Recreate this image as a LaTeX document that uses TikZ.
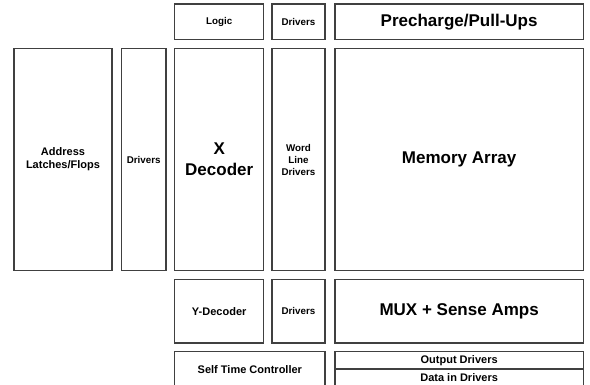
\documentclass[tikz,border=0pt]{standalone}
\usepackage{fontspec}
\setmainfont{Liberation Sans}
\usepackage{tikz}
\usetikzlibrary{positioning}
\tikzset{
	block/.style = {draw=black!75, line width=1.3pt, fill=white, rectangle, inner sep=0pt, outer sep=0pt, align=center},
	small/.style = {font=\bfseries\fontsize{9.8}{12}\selectfont},
	medium/.style = {font=\bfseries\fontsize{11}{13.3}\selectfont},
	large/.style = {font=\bfseries\fontsize{17}{21}\selectfont},
	tall/.style = {minimum height=222.4pt},
	top/.style = {minimum height=35.7pt},
	mid/.style = {minimum height=63.7pt},
	thin/.style = {minimum height=17.3pt}
}

\begin{document}
\begin{tikzpicture}[x=1pt,y=1pt]
	\useasboundingbox (0,0) rectangle (590,-385);
	\clip (0,0) rectangle (590,-385);
	\node [block, large, tall, minimum width=89pt, anchor=north west] (XDec) at (174.7,-48.3) {X\\Decoder};
	\node [block, small, tall, minimum width=44.7pt, left=8.7pt of XDec] (AddrDrv) {Drivers};
	\node [block, medium, tall, minimum width=98pt, left=9.3pt of AddrDrv] (Addr) {Address\\Latches/Flops};
	\node [block, small, tall, minimum width=53pt, right=8.3pt of XDec] (WLDrv) {Word\\Line\\Drivers};
	\node [block, large, tall, minimum width=248.3pt, right=10pt of WLDrv] (Mem) {Memory Array};

	\node [block, small, top, minimum width=89pt, above=8.6pt of XDec] (Logic) {Logic};
	\node [block, small, top, minimum width=53pt, above=8.6pt of WLDrv] (TopDrv) {Drivers};
	\node [block, large, top, minimum width=248.3pt, above=8.6pt of Mem] (Pre) {Precharge/Pull-Ups};

	\node [block, medium, mid, minimum width=89pt, below=8.6pt of XDec] (YDec) {Y-Decoder};
	\node [block, small, mid, minimum width=53pt, below=8.6pt of WLDrv] (BotDrv) {Drivers};
	\node [block, large, mid, minimum width=248.3pt, below=8.6pt of Mem] (Mux) {MUX + Sense Amps};

	\node [block, medium, minimum width=150.3pt, minimum height=34.9pt, below=8.7pt of YDec.south west, anchor=north west] (STC) {Self Time Controller};
	\node [block, medium, thin, minimum width=248.3pt, below=8.7pt of Mux] (OutDrv) {Output Drivers};
	\node [block, medium, thin, minimum width=248.3pt, below=0pt of OutDrv] (InDrv) {Data in Drivers};
\end{tikzpicture}
\end{document}
